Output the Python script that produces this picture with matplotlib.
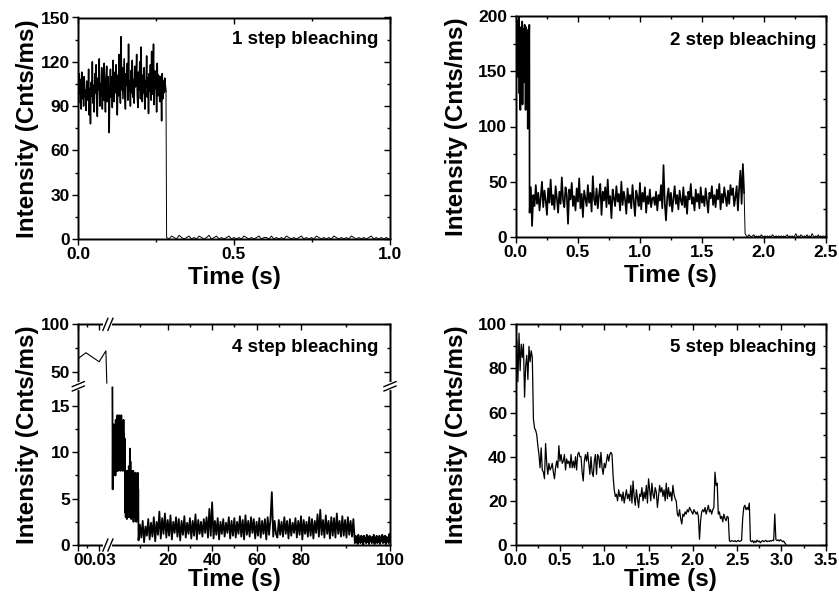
import numpy as np
import matplotlib
matplotlib.use('Agg')
import matplotlib.pyplot as plt

plt.rcParams['font.family'] = ['Liberation Sans', 'DejaVu Sans']
plt.rcParams['font.weight'] = 'bold'
plt.rcParams['axes.linewidth'] = 1.0

# --- data ---
# panel 1: one step, sampled every 2 ms then 8 ms after bleaching
p1_dt_on, p1_t_off0, p1_dt_off = 0.002, 0.284, 0.008
p1_on = [104, 92, 112, 98, 108, 88, 113, 95, 104, 90,
         110, 96, 101, 87, 107, 99, 94, 115, 84, 102,
         78, 106, 97, 120, 92, 104, 86, 112, 99, 118,
         95, 83, 109, 101, 122, 90, 105, 97, 116, 88,
         112, 94, 119, 100, 86, 108, 117, 93, 110, 98,
         72, 104, 115, 96, 110, 89, 121, 102, 93, 113,
         99, 118, 106, 84, 111, 97, 125, 103, 92, 137,
         101, 116, 95, 109, 122, 98, 88, 112, 104, 119,
         94, 132, 100, 107, 90, 114, 99, 121, 96, 108,
         92, 117, 103, 110, 125, 97, 89, 113, 101, 120,
         95, 130, 106, 93, 111, 99, 116, 88, 107, 103,
         124, 96, 109, 85, 112, 100, 118, 94, 127, 98,
         105, 132, 91, 114, 102, 108, 86, 119, 97, 111,
         100, 93, 110, 104, 80, 112, 95, 107, 99, 109,
         104, 100]
p1_off = [1, 0, 2, 1, 0, 2.5, 1, 0, 1, 2, 0, 1, 0, 2, 1, 0, 1, 2.5, 0, 1,
          2, 0, 1, 0, 1, 2, 0, 1, 0, 1, 0, 2, 1, 0, 1, 0, 1, 2, 0, 1,
          1, 0, 2, 0, 1, 0, 1, 0, 2, 1, 0, 1, 0, 1, 2, 0, 1, 0, 1, 0,
          2, 1, 0, 1, 0, 1, 0, 2, 1, 0, 1, 0, 1, 0, 2, 1, 0, 1, 0, 1,
          0, 1, 2, 0, 1, 0, 1, 0, 1, 0]

# panel 2: two steps
p2_dt_hi, p2_t_mid0, p2_dt_mid, p2_t_off0, p2_dt_off = 0.0025, 0.112, 0.01, 1.85, 0.01
p2_hi = [175, 190, 150, 182, 170, 196, 145, 178, 160, 188,
         175, 200, 130, 170, 185, 115, 165, 190, 125, 172,
         150, 195, 120, 178, 162, 188, 140, 182, 170, 192,
         155, 180, 115, 190, 150, 176, 120, 185, 165, 98,
         160, 188, 150, 180, 192]
p2_mid = [22, 45, 10, 38, 28, 47, 30, 40, 24, 36,
          50, 27, 42, 33, 20, 44, 31, 52, 29, 38,
          25, 46, 35, 22, 41, 30, 54, 33, 27, 45,
          38, 12, 43, 34, 49, 28, 37, 24, 44, 32,
          53, 26, 39, 18, 42, 35, 28, 47, 31, 40,
          23, 55, 34, 29, 44, 26, 38, 48, 20, 41,
          33, 45, 27, 52, 30, 37, 17, 43, 35, 28,
          46, 32, 39, 24, 50, 29, 41, 34, 21, 44,
          31, 38, 26, 47, 33, 19, 42, 36, 28, 49,
          25, 40, 32, 45, 22, 37, 30, 43, 27, 35,
          36, 29, 41, 24, 38, 33, 47, 26, 65, 31,
          15, 36, 44, 28, 40, 23, 35, 46, 30, 38,
          25, 42, 33, 29, 45, 27, 37, 21, 41, 34,
          48, 30, 36, 24, 43, 32, 39, 26, 45, 31,
          37, 28, 44, 33, 22, 40, 35, 46, 29, 38,
          27, 43, 34, 48, 25, 39, 31, 45, 36, 28,
          42, 30, 47, 38, 44, 28, 36, 46, 24, 44,
          60, 30, 66, 40]
p2_off = [3, 1, 0, 2, 1, 0, 1, 2, 0, 1, 0, 1, 0, 2, 1, 0, 1, 0, 1, 0,
          1, 0, 2, 1, 0, 1, 0, 1, 0, 1, 0, 1, 0, 1, 2, 0, 1, 0, 1, 0,
          1, 3, 0, 1, 0, 2, 1, 0, 1, 0, 2, 0, 1, 0, 3, 1, 0, 1, 0, 2,
          0, 1, 0, 1, 0, 1]

# panel 3 (broken axes): first 40 ms on the upper scale, rest on the lower one
p3_up_t = [0.0, 0.011, 0.03, 0.0397, 0.041]
p3_up_v = [64, 70, 60.5, 72, 38]
p3_b1_t0, p3_b1_dt = 0.1, 0.1
p3_b1 = [17, 6, 13, 8, 12, 7.5, 13, 9, 12.5, 8, 11, 7.5, 13.5, 8.5, 12, 9,
         13, 8, 14, 9.5, 12.5, 8, 13.5, 9, 14, 8.5, 12, 9.5, 13, 8, 13.5, 9,
         14, 8.5, 12.5, 9, 13, 8, 12, 8.5, 13.5, 9, 12, 8, 11.5, 7.5]
p3_b2_t0, p3_b2_dt = 4.7, 0.1
p3_b2 = [3.5, 7.5, 3, 8, 4, 7, 2.8, 7.5, 3.5, 8, 4, 7, 3, 8.5, 3.5, 8, 4,
         10.4, 3, 9, 3.5, 7.5, 2.8, 8, 4, 7, 3, 7.5, 3.5, 8, 2.5, 7, 3.5,
         7.5, 3, 6.5, 4, 7.8, 3, 7, 2.5, 7.5, 3.5, 6.5, 3, 7.8, 2.8, 6]
p3_b3a_t0, p3_b3a_dt = 9.5, 0.5
p3_b3a = [0.5, 2.2, 0.8, 2.6, 0.3, 2.0, 1.0, 2.8, 0.6, 2.4,
          0.9, 3.0, 0.4, 2.5, 1.1, 3.6, 0.7, 2.9, 1.2, 3.4, 0.8]
p3_b3b_t0, p3_b3b_dt = 20.0, 0.625
p3_b3b = [2.7, 1.0, 3.2, 0.6, 2.5, 1.3, 3.0, 0.9, 2.8,
          0.5, 2.6, 1.1, 3.1, 0.8, 2.4, 1.2, 2.9, 0.7, 2.6,
          1.0, 3.3, 0.6, 2.7, 1.2, 2.5, 0.9, 2.8, 1.3, 3.0,
          0.8, 3.9, 1.0, 4.6, 0.7, 2.6, 1.1, 2.9, 0.6, 2.5,
          1.2, 2.8, 0.9, 2.4, 1.3, 3.0, 0.7, 2.6, 1.0, 2.9,
          0.8, 2.5, 1.2, 3.1, 0.9, 2.7, 0.6, 3.2, 1.1, 2.6,
          0.9, 3.0, 1.3, 2.8, 0.7, 2.5, 1.0, 2.9, 0.8, 2.6,
          1.2, 2.8, 0.6, 3.0, 1.1, 2.7, 5.7, 0.9, 2.6, 1.2,
          0.8, 2.7, 1.1, 2.5, 0.9, 3.0, 1.2, 2.6, 0.7, 2.8,
          1.0, 2.4, 1.3, 2.9, 0.8, 2.6, 1.1, 3.1]
p3_b3c_t0, p3_b3c_dt = 80.3, 0.31
p3_b3c = [0.6, 2.7,
          1.2, 2.5, 0.9, 3.0, 1.0, 2.8, 0.7, 2.6, 1.3, 3.3,
          0.9, 3.8, 1.1, 2.7, 0.8, 3.2, 1.2, 2.6, 0.7, 3.0,
          1.0, 2.9, 0.8, 3.4, 1.2, 2.6, 0.9, 3.1, 1.0, 2.7,
          0.8, 3.0, 1.1, 2.6, 0.9, 2.8]
p3_b4_t0, p3_b4_dt = 92.1, 0.158
p3_b4 = [0.2, 1.0, 0.3, 0.9, 0.1, 1.1, 0.4, 0.8, 0.2, 1.0, 0.3, 0.9, 0.0,
         1.0, 0.4, 0.8, 0.2, 1.1, 0.3, 0.9, 0.1, 1.0, 0.4, 0.8, 0.2, 0.9,
         0.3, 1.1, 0.1, 0.8, 0.4, 1.0, 0.2, 0.9, 0.3, 1.0, 0.1, 0.8, 0.4,
         1.1, 0.2, 0.9, 0.3, 1.0, 0.1, 0.9, 0.4, 0.8, 0.2, 1.2, 0.5]

# panel 4: five steps, 12.5 ms bins
p4_dt = 0.0125
p4 = [80, 93, 74, 96, 79, 91, 85, 91, 67, 81, 86, 75, 90, 83, 88, 85,
      57, 53, 52, 50, 45, 41, 35, 44, 34, 33, 30, 46, 37, 32, 37, 34,
      35, 37, 33, 30, 35, 38, 35, 45, 38, 41, 37, 38, 41, 34, 39, 37,
      38, 35, 41, 35, 38, 35, 40, 34, 41, 42, 40, 40, 33, 29, 38, 41,
      38, 42, 37, 32, 40, 33, 31, 38, 41, 32, 41, 40, 35, 42, 35, 32,
      37, 35, 38, 41, 38, 41, 42, 41, 31, 25, 22, 23, 20, 25, 22, 23,
      20,
      24, 19, 22, 25, 21, 23, 20, 27, 19, 29, 22, 18, 25, 21, 17, 23,
      22, 26, 20, 24, 21, 27, 19, 30, 25, 20, 28, 23, 21, 26, 24, 17,
      22, 27, 24, 26, 22, 25, 20, 28, 21, 26, 22, 24, 20, 27, 23, 21,
      20, 14, 13, 16, 12, 9.5, 14, 13, 15, 14, 16, 15, 17, 16, 15, 14,
      16, 15, 14, 15,
      13, 2.6, 11, 15, 16, 15, 17, 14, 16, 18, 15, 16, 14, 16, 17,
      33, 27, 28, 14, 15, 12, 13, 10.5, 14, 12, 11, 13, 12.5, 2,
      1.5, 2, 1.8, 1.6, 2, 1.5, 1.7, 2.1, 1.6, 1.8, 2,
      12, 17, 18, 16, 17, 16, 19, 2,
      1.5, 2, 1, 1.8, 1.2, 2.2, 1.5, 1.8, 1, 1.6, 2, 1.5, 1.8, 2.1, 1.5,
      1.8, 1.6, 2, 1.7, 2.2,
      2, 14, 2.5, 2, 2.3, 1.8, 2.4, 2, 1.5, 1.8, 1, 0.3]

labels = ['1 step bleaching', '2 step bleaching', '4 step bleaching', '5 step bleaching']


def series(t0, dt, vals):
    return t0 + dt * np.arange(len(vals)), np.array(vals, float)


# --- broken scales for the 4-step panel: data value -> pixel offset knots ---
x_knots_v = [0, 0.042, 0.06, 20, 80, 100]
x_knots_p = [0, 29.2, 33.99, 89.4, 222.7, 311.7]
y_knots_v = [0, 17.1, 34.6, 100]
y_knots_p = [0, 158.5, 158.675, 220.7]


def fwd_x(x):
    return np.interp(np.asarray(x, float), x_knots_v, x_knots_p)


def inv_x(p):
    return np.interp(np.asarray(p, float), x_knots_p, x_knots_v)


def fwd_y(y):
    return np.interp(np.asarray(y, float), y_knots_v, y_knots_p)


def inv_y(p):
    return np.interp(np.asarray(p, float), y_knots_p, y_knots_v)


W, H = 839, 602
fig = plt.figure(figsize=(W / 100, H / 100), dpi=100)


def box(l, t, r, b):
    return [l / W, 1 - b / H, (r - l) / W, (b - t) / H]


def finish(ax, xlim, ylim, xt, xmt, yt, ymt, xs=None, ys=None, xlab=None):
    if xs:
        ax.set_xscale('function', functions=xs)
    if ys:
        ax.set_yscale('function', functions=ys)
    ax.set_xlim(xlim); ax.set_ylim(ylim)
    ax.set_xticks(xt); ax.set_xticks(xmt, minor=True)
    ax.set_yticks(yt); ax.set_yticks(ymt, minor=True)
    if xlab:
        ax.set_xticklabels(xlab)
    ax.tick_params(which='major', direction='out', length=4, width=1, labelsize=12.5, pad=2)
    ax.tick_params(which='minor', direction='out', length=2.2, width=1)
    tx = ax.twinx()
    if ys:
        tx.set_yscale('function', functions=ys)
    tx.set_ylim(ylim); tx.set_yticks(yt); tx.set_yticks(ymt, minor=True)
    tx.tick_params(axis='y', which='major', direction='in', length=4, width=1, labelright=False)
    tx.tick_params(axis='y', which='minor', direction='in', length=2.2, width=1)
    ty = ax.twiny()
    if xs:
        ty.set_xscale('function', functions=xs)
    ty.set_xlim(xlim); ty.set_xticks(xt); ty.set_xticks(xmt, minor=True)
    ty.tick_params(axis='x', which='major', direction='in', length=4, width=1, labeltop=False)
    ty.tick_params(axis='x', which='minor', direction='in', length=2.2, width=1)
    return ty


def texts(ax, label, xl, yl, tx, ty):
    ax.set_xlabel('Time (s)', fontsize=17.5, fontweight='bold', va='center')
    ax.set_ylabel('Intensity (Cnts/ms)', fontsize=17.5, fontweight='bold')
    ax.xaxis.set_label_coords(0.5, xl)
    ax.yaxis.set_label_coords(yl, 0.5)
    ax.text(tx, ty, label, transform=ax.transAxes, ha='right', va='top', fontsize=13.5)


# 1 step
ax1 = fig.add_axes(box(78, 17.5, 390, 239))
t_on, v_on = series(0, p1_dt_on, p1_on)
t_off, v_off = series(p1_t_off0, p1_dt_off, p1_off)
ax1.plot(t_on, v_on, color='black', lw=1.1)
ax1.plot(np.concatenate([t_on[-1:], t_off]), np.concatenate([v_on[-1:], v_off]),
         color='black', lw=0.7)
finish(ax1, (0, 1), (0, 150), [0, 0.5, 1.0], [0.25, 0.75],
       [0, 30, 60, 90, 120, 150], [15, 45, 75, 105, 135], xlab=['0.0', '0.5', '1.0'])
texts(ax1, labels[0], -0.176, -0.125, 0.962, 0.94)

# 2 step
ax2 = fig.add_axes(box(515.7, 16, 825.7, 237))
t_a, v_a = series(0, p2_dt_hi, p2_hi)
t_b, v_b = series(p2_t_mid0, p2_dt_mid, p2_mid)
t_c, v_c = series(p2_t_off0, p2_dt_off, p2_off)
ax2.plot(np.concatenate([t_a, t_b]), np.concatenate([v_a, v_b]), color='black', lw=1.25)
ax2.plot(np.concatenate([t_b[-1:], t_c]), np.concatenate([v_b[-1:], v_c]), color='black', lw=0.7)
finish(ax2, (0, 2.5), (0, 200), [0, 0.5, 1.0, 1.5, 2.0, 2.5], [0.25, 0.75, 1.25, 1.75, 2.25],
       [0, 50, 100, 150, 200], [25, 75, 125, 175],
       xlab=['0.0', '0.5', '1.0', '1.5', '2.0', '2.5'])
texts(ax2, labels[1], -0.176, -0.155, 0.971, 0.927)

# 4 step, broken axes
ax3 = fig.add_axes(box(78.3, 324.3, 390, 545))
ax3.plot(p3_up_t, p3_up_v, color='black', lw=0.8)
segs = [series(p3_b1_t0, p3_b1_dt, p3_b1), series(p3_b2_t0, p3_b2_dt, p3_b2),
        series(p3_b3a_t0, p3_b3a_dt, p3_b3a), series(p3_b3b_t0, p3_b3b_dt, p3_b3b),
        series(p3_b3c_t0, p3_b3c_dt, p3_b3c), series(p3_b4_t0, p3_b4_dt, p3_b4)]
ax3.plot(np.concatenate([s[0] for s in segs]), np.concatenate([s[1] for s in segs]),
         color='black', lw=1.3)
top3 = finish(ax3, (0, 100), (0, 100), [0, 0.03, 20, 40, 60, 80, 100], [0.013, 10, 30, 50, 70, 90],
              [0, 5, 10, 15, 50, 100], [2.5, 7.5, 12.5, 75], xs=(fwd_x, inv_x), ys=(fwd_y, inv_y),
              xlab=['0', '0.03', '20', '40', '60', '80', '100'])
texts(ax3, labels[2], -0.158, -0.125, 0.962, 0.934)

# break marks ("//") on the spines, in axes fractions
aw, ah = 311.7, 220.7
xb, yb = 0.095, 0.719
for xs_ in (0, 1):
    top3.plot([xs_, xs_], [yb - 2 / ah, yb + 2 / ah], color='white', lw=3,
              transform=ax3.transAxes, clip_on=False, zorder=10)
    for off in (-2.2, 2.2):
        top3.plot([xs_ - 6 / aw, xs_ + 6 / aw], [yb + (off - 2.5) / ah, yb + (off + 2.5) / ah],
                  color='black', lw=1, transform=ax3.transAxes, clip_on=False, zorder=11)
for ys_ in (0, 1):
    top3.plot([xb - 2.5 / aw, xb + 2.5 / aw], [ys_, ys_], color='white', lw=3,
              transform=ax3.transAxes, clip_on=False, zorder=10)
    for off in (-2.5, 2.5):
        top3.plot([xb + (off - 2.5) / aw, xb + (off + 2.5) / aw], [ys_ - 6 / ah, ys_ + 6 / ah],
                  color='black', lw=1, transform=ax3.transAxes, clip_on=False, zorder=11)

# 5 step
ax4 = fig.add_axes(box(515.7, 324.3, 825.7, 545))
t4, v4 = series(0, p4_dt, p4)
ax4.plot(t4, v4, color='black', lw=0.9)
finish(ax4, (0, 3.5), (0, 100), [0, 0.5, 1.0, 1.5, 2.0, 2.5, 3.0, 3.5],
       [0.25, 0.75, 1.25, 1.75, 2.25, 2.75, 3.25],
       [0, 20, 40, 60, 80, 100], [10, 30, 50, 70, 90],
       xlab=['0.0', '0.5', '1.0', '1.5', '2.0', '2.5', '3.0', '3.5'])
texts(ax4, labels[3], -0.158, -0.155, 0.971, 0.934)

fig.savefig('out.png', dpi=100)
